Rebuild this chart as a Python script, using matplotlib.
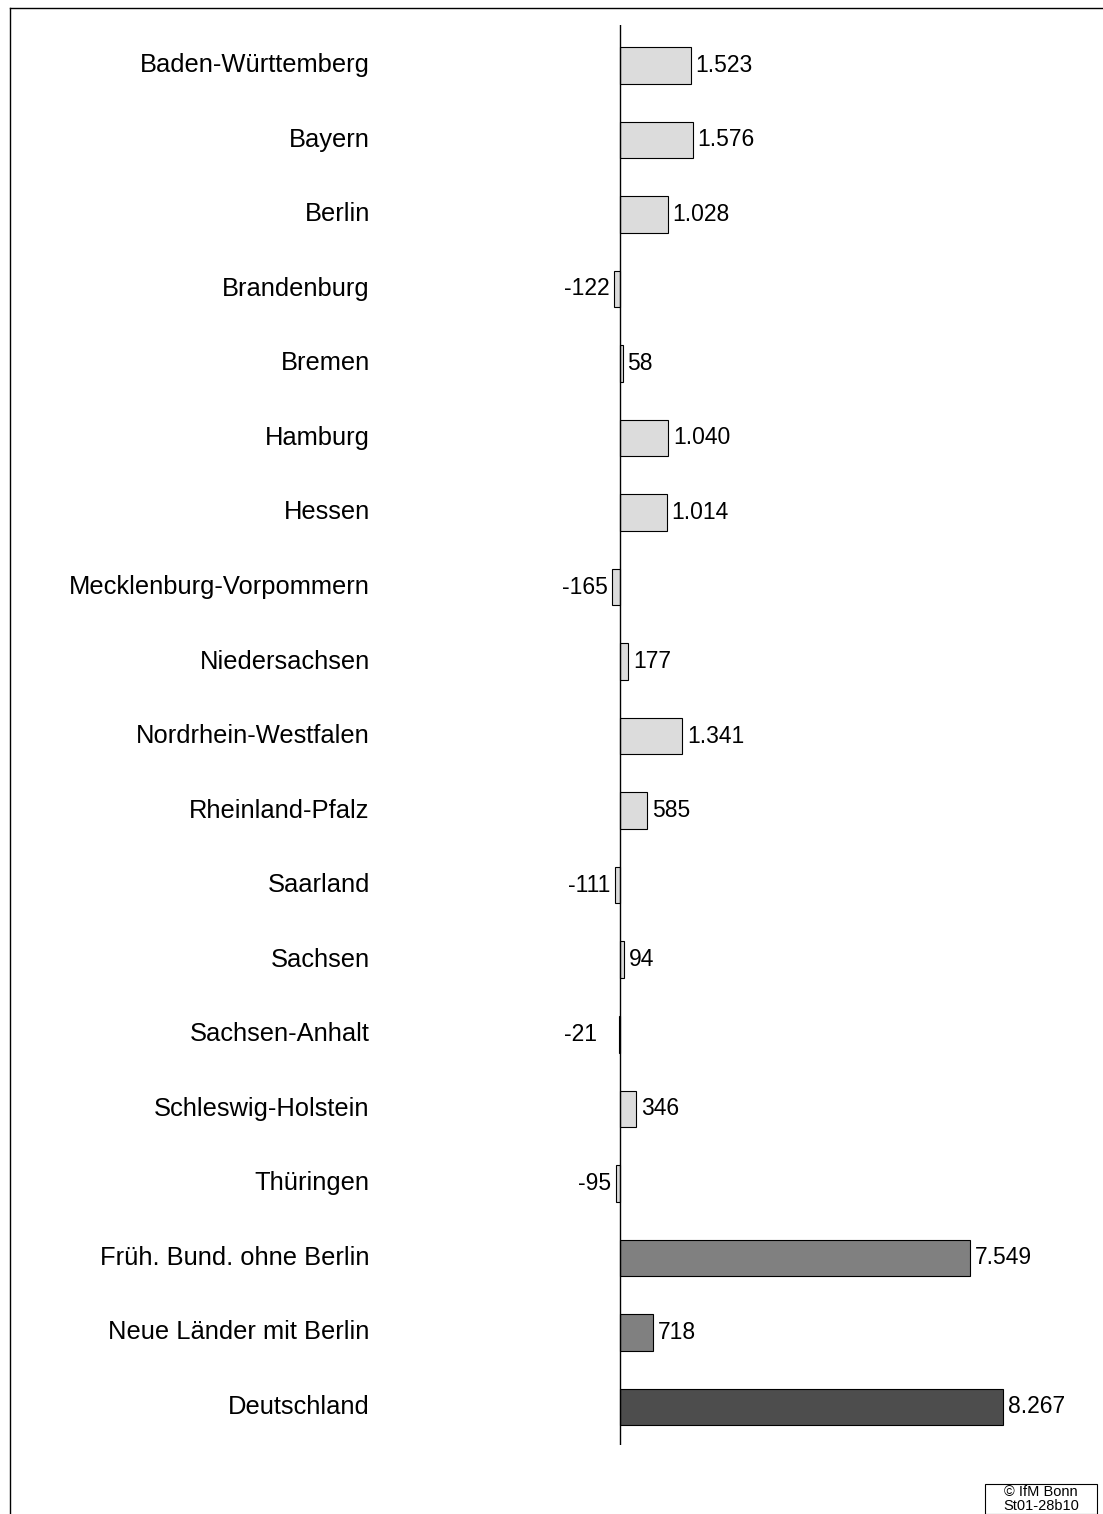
import matplotlib
matplotlib.use("Agg")
import matplotlib.pyplot as plt
from matplotlib.patches import Rectangle

categories = ["Baden-Württemberg","Bayern","Berlin","Brandenburg","Bremen","Hamburg","Hessen",
              "Mecklenburg-Vorpommern","Niedersachsen","Nordrhein-Westfalen","Rheinland-Pfalz",
              "Saarland","Sachsen","Sachsen-Anhalt","Schleswig-Holstein","Thüringen",
              "Früh. Bund. ohne Berlin","Neue Länder mit Berlin","Deutschland"]
values = [1523,1576,1028,-122,58,1040,1014,-165,177,1341,585,-111,94,-21,346,-95,7549,718,8267]
colors = ["#dcdcdc"]*16 + ["#808080","#808080","#4d4d4d"]

plt.rcParams['font.family'] = ['Liberation Sans', 'DejaVu Sans']
W, H = 1103, 1514
fig = plt.figure(figsize=(W/100, H/100), dpi=100)
ax = fig.add_axes([380/W, 1-1445/H, 720/W, 1420/H])
ax.set_xlim(-5180, 10360)
ax.set_ylim(18.51, -0.54)
y = list(range(len(categories)))
ax.barh(y, values, height=0.49, color=colors, edgecolor="black", linewidth=0.8)
ax.axvline(0, color="black", linewidth=1)
def fmt(v):
    s = f"{abs(v):,}".replace(",", ".")
    return ("-" if v < 0 else "") + s
for yi, v in zip(y, values):
    if v >= 0:
        ax.text(v + 100, yi, fmt(v), va="center", ha="left", fontsize=16.5)
    else:
        ax.text(v - 100 if v < -50 else -500, yi, fmt(v), va="center", ha="right", fontsize=16.5)
    ax.text(-5400, yi, categories[yi], va="center", ha="right", fontsize=18.4)
for s in ax.spines.values():
    s.set_visible(False)
ax.set_xticks([]); ax.set_yticks([])

fig.add_artist(plt.Line2D([10/W, 10/W], [0, 1-8/H], color="black", lw=1, transform=fig.transFigure))
fig.add_artist(plt.Line2D([10/W, 1103/W], [1-8/H, 1-8/H], color="black", lw=1, transform=fig.transFigure))
fig.add_artist(Rectangle((985/W, 0), 112/W, 30/H, fill=False, edgecolor="black", lw=0.8, transform=fig.transFigure))
fig.text(1041/W, 15/H, "© IfM Bonn\nSt01-28b10", ha="center", va="center", fontsize=10.5, linespacing=1.0)
fig.savefig("out.png", dpi=100)
